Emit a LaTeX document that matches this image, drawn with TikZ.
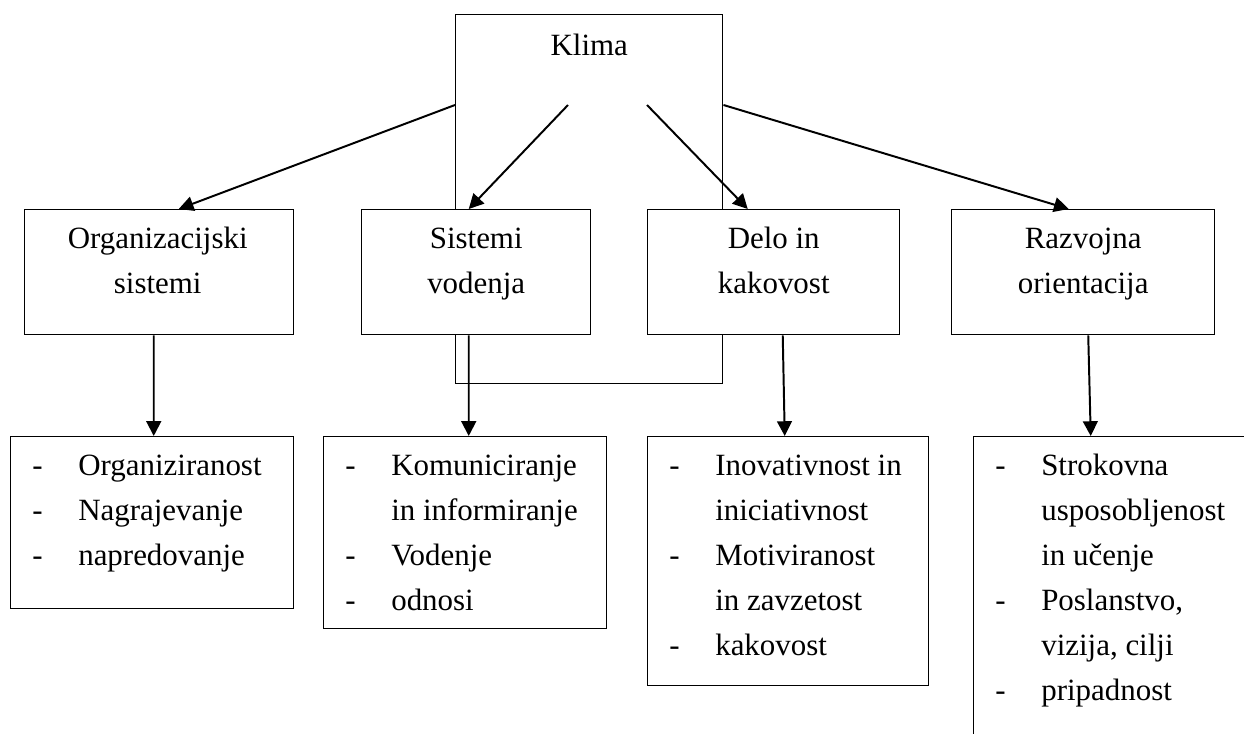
\documentclass[tikz,border=0pt]{standalone}
\usepackage{fontspec}
\setmainfont{Liberation Serif}
\usepackage{array}
\usetikzlibrary{arrows.meta, calc}
\newcommand{\headtext}[1]{\begin{tabular}{@{}c@{}}#1\end{tabular}}
\newcommand{\listtext}[1]{\begin{tabular}{@{}p{1.15cm}@{}l@{}}#1\end{tabular}}

\begin{document}
\begin{tikzpicture}[
    x=0.025cm, y=-0.025cm,
    >={Triangle[length=10.5pt, width=10.5pt]},
    box/.style={rectangle, draw, line width=1pt, anchor=north west, inner sep=0pt},
    headbox/.style={box, fill=white, minimum height=3.125cm},
    txt/.style={inner sep=0pt, font=\fontsize{22}{32}\selectfont},
    msg/.style={->, line width=1.4pt}
]
    \useasboundingbox (0,0) rectangle (1244,734);
    \clip (0,0) rectangle (1244,734);

    \node[box, minimum width=6.675cm, minimum height=9.225cm] (klima) at (455,14) {};
    \node[txt, anchor=north] (klimatxt) at ($(klima.north)+(0,9.5)$) {\headtext{Klima}};

    \node[headbox, minimum width=6.725cm] (org) at (24,209) {};
    \node[headbox, minimum width=5.725cm] (sis) at (361,209) {};
    \node[headbox, minimum width=6.3cm] (delo) at (647,209) {};
    \node[headbox, minimum width=6.575cm] (razv) at (951,209) {};
    \node[txt, anchor=north] (orgtxt) at ($(org.north)+(-1.5,7.5)$) {\headtext{Organizacijski\\sistemi}};
    \node[txt, anchor=north] (sistxt) at ($(sis.north)+(0,7.5)$) {\headtext{Sistemi\\vodenja}};
    \node[txt, anchor=north] (delotxt) at ($(delo.north)+(0,7.5)$) {\headtext{Delo in\\kakovost}};
    \node[txt, anchor=north] (razvtxt) at ($(razv.north)+(0,7.5)$) {\headtext{Razvojna\\orientacija}};

    \node[box, minimum width=7.075cm, minimum height=4.3cm] (orglist) at (10,436) {};
    \node[box, minimum width=7.075cm, minimum height=4.8cm] (sislist) at (323,436) {};
    \node[box, minimum width=7.025cm, minimum height=6.225cm] (delolist) at (647,436) {};
    \node[box, minimum width=6.925cm, minimum height=7.6cm] (razvlist) at (973,436) {};
    \node[txt, anchor=north west] (orgitems) at ($(orglist.north west)+(22,7.5)$)
        {\listtext{-&Organiziranost\\-&Nagrajevanje\\-&napredovanje}};
    \node[txt, anchor=north west] (sisitems) at ($(sislist.north west)+(22,7.5)$)
        {\listtext{-&Komuniciranje\\&in informiranje\\-&Vodenje\\-&odnosi}};
    \node[txt, anchor=north west] (deloitems) at ($(delolist.north west)+(22,7.5)$)
        {\listtext{-&Inovativnost in\\&iniciativnost\\-&Motiviranost\\&in zavzetost\\-&kakovost}};
    \node[txt, anchor=north west] (razvitems) at ($(razvlist.north west)+(22,7.5)$)
        {\listtext{-&Strokovna\\&usposobljenost\\&in učenje\\-&Poslanstvo,\\&vizija, cilji\\-&pripadnost}};

    \coordinate (kwest) at ($(klima.north west)+(0,91)$);
    \coordinate (kleft) at ($(klima.north west)+(113,91)$);
    \coordinate (kright) at ($(klima.north west)+(192,91)$);
    \coordinate (keast) at ($(klima.north east)+(0,91)$);

    \draw[msg] (kwest) -- ($(org.north)+(19.5,0)$);
    \draw[msg] (kleft) -- ($(sis.north)+(-7.5,0)$);
    \draw[msg] (kright) -- ($(delo.north)+(-26,0)$);
    \draw[msg] (keast) -- ($(razv.north)+(-14.5,0)$);

    \draw[msg] ($(org.south)+(-5.5,0)$) -- ($(orglist.north)+(1.5,0)$);
    \draw[msg] ($(sis.south)+(-7.5,0)$) -- ($(sislist.north)+(3.5,0)$);
    \draw[msg] ($(delo.south)+(9,0)$) -- ($(delolist.north)+(-3.5,0)$);
    \draw[msg] ($(razv.south)+(5,0)$) -- ($(razvlist.north)+(-21.5,0)$);
\end{tikzpicture}
\end{document}
